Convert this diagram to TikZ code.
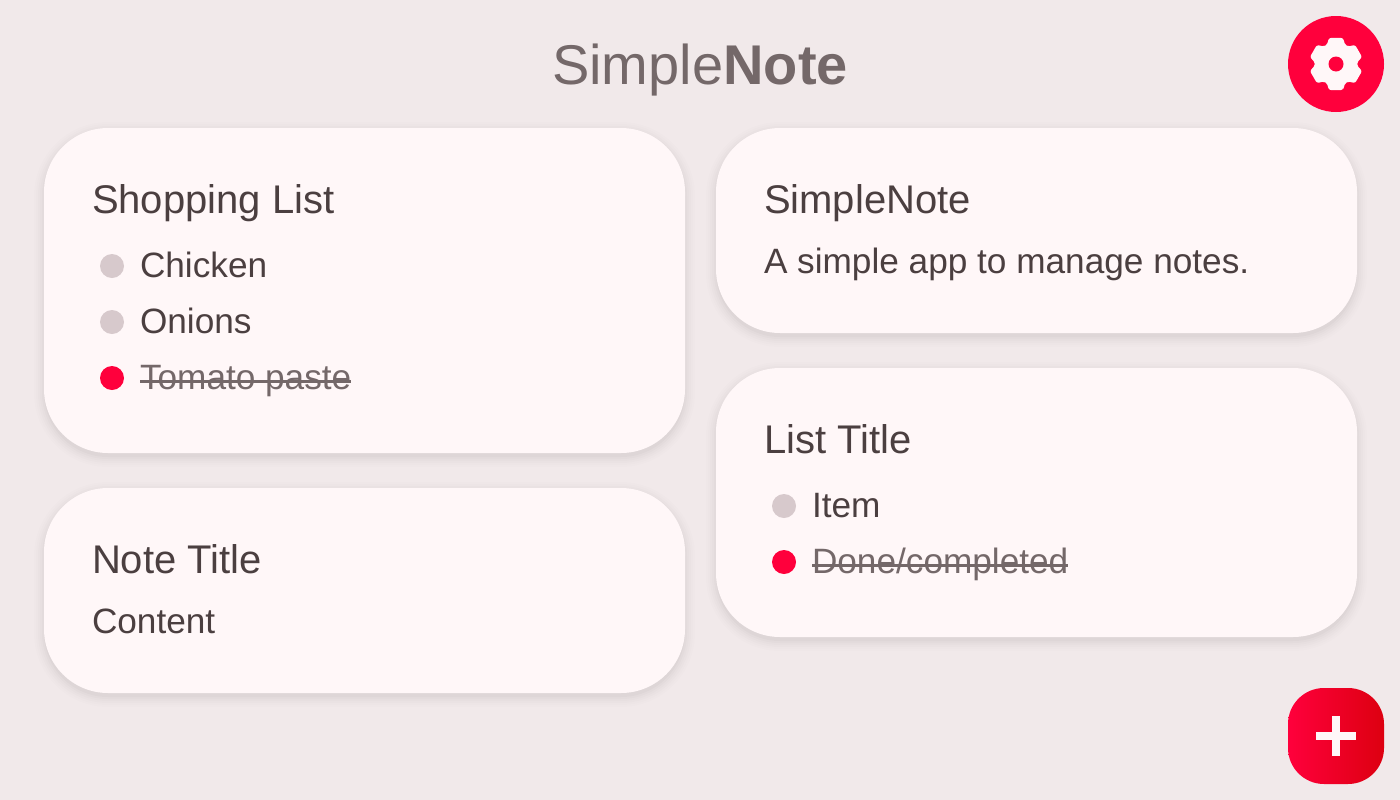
\documentclass[tikz,border=0pt]{standalone}
\usepackage{fontspec}
\setmainfont{Liberation Sans}
\usetikzlibrary{calc}
\definecolor{pagebg}{HTML}{F1E9EA}
\definecolor{cardbg}{HTML}{FFF7F8}
\definecolor{ink}{HTML}{4B3F40}
\definecolor{inkfade}{HTML}{746869}
\definecolor{accent}{HTML}{FF003C}
\definecolor{accentdark}{HTML}{DD0010}
\definecolor{dotgrey}{HTML}{D7C9CC}
\tikzset{
  x=0.75pt,y=-0.75pt,
  cardtext/.style={anchor=base west,inner sep=0,outer sep=0,text=ink},
  titletext/.style={cardtext,font=\fontsize{30}{36}\selectfont},
  bodytext/.style={cardtext,font=\fontsize{26.4}{32}\selectfont},
  donetext/.style={bodytext,text=inkfade},
  strike/.style={draw=inkfade,line width=2.25pt},
  tododot/.style={circle,fill=dotgrey,minimum size=18pt,inner sep=0,outer sep=0},
  donedot/.style={circle,fill=accent,minimum size=18pt,inner sep=0,outer sep=0},
}
\newcommand{\card}[5]{% name, x0,y0,x1,y1
  \foreach \g/\o in {10/0.006,8/0.008,6/0.01,4/0.012,2/0.014,0/0.018}{
    \fill[black,opacity=\o,rounded corners={(48+\g*0.75)*1pt}]
      (#2-\g,#3+4-\g) rectangle (#4+\g,#5+4+\g);
  }
  \fill[cardbg,rounded corners=48pt] (#2,#3) rectangle (#4,#5);
  \coordinate (#1) at (#2,#3);
}
\begin{document}
\begin{tikzpicture}
\useasboundingbox (0,0) rectangle (1400,800);
\fill[pagebg] (0,0) rectangle (1400,800);

% header
\node[anchor=base,inner sep=0,text=inkfade,font=\fontsize{42}{50}\selectfont] (header) at (700,84) {Simple\textbf{Note}};

% settings button
\node[circle,fill=accent,minimum size=72pt,inner sep=0] (settings) at (1336,64) {};
\fill[cardbg,rounded corners=1.6pt]
  ($(settings.center)+(75:27)$)
  \foreach \a in {0,60,...,300}{
    -- ($(settings.center)+({\a+75}:27)$)
    -- ($(settings.center)+({\a+105}:27)$)
    -- ($(settings.center)+({\a+116}:21)$)
    -- ($(settings.center)+({\a+124}:21)$)
  } -- cycle;
\fill[accent] (settings.center) circle (7.5);

% cards
\card{c1}{44}{128}{685}{453}
\card{c2}{44}{488}{685}{693}
\card{c3}{716}{128}{1357}{333}
\card{c4}{716}{368}{1357}{637}

\node[titletext] (t1) at (92,213) {Shopping List};
\node[tododot] (d11) at (112,266) {};
\node[bodytext] (i11) at (140,277) {Chicken};
\node[tododot] (d12) at (112,322) {};
\node[bodytext] (i12) at (140,333) {Onions};
\node[donedot] (d13) at (112,378) {};
\node[donetext] (i13) at (140,389) {Tomato paste};
\draw[strike] (i13.base west)++(0,-7.5) -- ++(211,0);

\node[titletext] (t2) at (92,573) {Note Title};
\node[bodytext] (b2) at (92,633) {Content};

\node[titletext] (t3) at (764,213) {SimpleNote};
\node[bodytext] (b3) at (764,273) {A simple app to manage notes.};

\node[titletext] (t4) at (764,453) {List Title};
\node[tododot] (d41) at (784,506) {};
\node[bodytext] (i41) at (812,517) {Item};
\node[donedot] (d42) at (784,562) {};
\node[donetext] (i42) at (812,573) {Done/completed};
\draw[strike] (i42.base west)++(0,-7.5) -- ++(256,0);

% add button
\shade[rounded corners=27pt,left color=accent,right color=accentdark] (1288,688) rectangle (1384,784);
\coordinate (add) at (1336,736);
\fill[cardbg] ($(add)+(-20,-4)$) rectangle ($(add)+(20,4)$);
\fill[cardbg] ($(add)+(-4,-20)$) rectangle ($(add)+(4,20)$);
\end{tikzpicture}
\end{document}
